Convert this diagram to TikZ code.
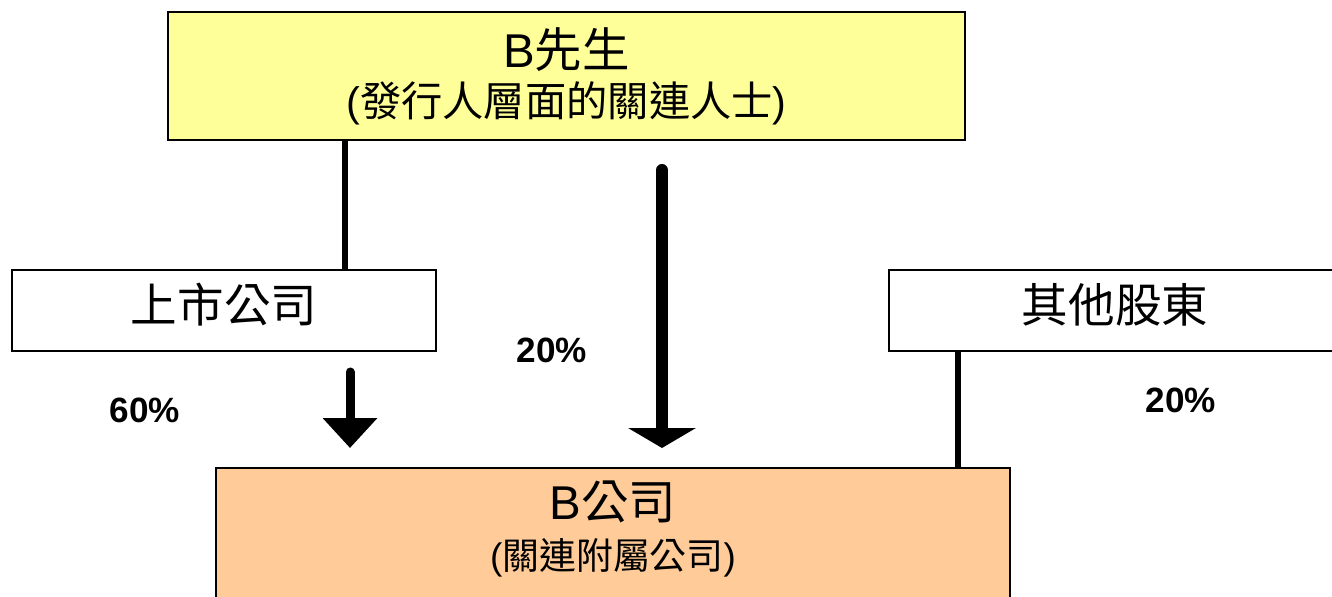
\documentclass[tikz,border=0pt]{standalone}
\usepackage{fontspec}
\setmainfont{Liberation Sans}
\newfontfamily\cjk{Noto Sans CJK TC}
\usetikzlibrary{arrows.meta, positioning}
\definecolor{personyellow}{HTML}{FFFF99}
\definecolor{subsidorange}{HTML}{FFCC99}

\begin{document}
\begin{tikzpicture}[
	x=0.02cm, y=-0.02cm,
	every node/.style={inner sep=0pt},
	box/.style={
		rectangle, draw, line width=1.1pt, align=center
	},
	link/.style={line width=3.8pt},
	shortarrow/.style={line width=0.18cm, line cap=round, -{Triangle[width=1.06cm, length=0.6cm]}},
	longarrow/.style={line width=0.24cm, line cap=round, -{Triangle[width=1.34cm, length=0.4cm]}},
	pct/.style={font=\fontsize{20}{24}\selectfont\bfseries}
	]
	
	\clip (0,0) rectangle (1332,597);
	
	% Boxes
	\node[box, fill=personyellow, minimum width=15.94cm, minimum height=2.56cm,
		font=\fontsize{23.5}{28}\selectfont] (person) at (566.5,76)
		{{\fontsize{27}{28}\selectfont B{\cjk 先生}}\\({\cjk 發行人層面的關連人士})};
	\node[box, fill=white, minimum width=8.48cm, minimum height=1.62cm, text depth=0.31cm,
		font=\fontsize{26.5}{30}\selectfont\cjk] (listed) at (224,310.5) {上市公司};
	\node[box, fill=white, minimum width=9.04cm, minimum height=1.62cm, text depth=0.31cm,
		font=\fontsize{26.5}{30}\selectfont\cjk] (other) at (1115,310.5) {其他股東};
	\node[box, fill=subsidorange, minimum width=15.88cm, minimum height=4cm] (bco) at (613,568) {};
	\node[font=\fontsize{21}{28.5}\selectfont, align=center] (bcotext) at (613,529)
		{{\fontsize{27}{28.5}\selectfont B{\cjk 公司}}\\({\cjk 關連附屬公司})};
	
	% Connectors
	\coordinate (xlisted) at (345,0);
	\coordinate (xother) at (958,0);
	\coordinate (a1s) at (350,372);
	\coordinate (a1e) at (350,448);
	\coordinate (a2s) at (662,170);
	\coordinate (a2e) at (662,448);
	\draw[link] (person.south -| xlisted) -- (listed.north -| xlisted);
	\draw[link] (other.south -| xother) -- (bco.north -| xother);
	\draw[shortarrow] (a1s) -- (a1e);
	\draw[longarrow] (a2s) -- (a2e);
	
	% Percentages
	\node[pct] (pctlisted) at (145,410) {60\%};
	\node[pct] (pctperson) at (552,350) {20\%};
	\node[pct] (pctother) at (1181,400) {20\%};
	
\end{tikzpicture}
\end{document}
